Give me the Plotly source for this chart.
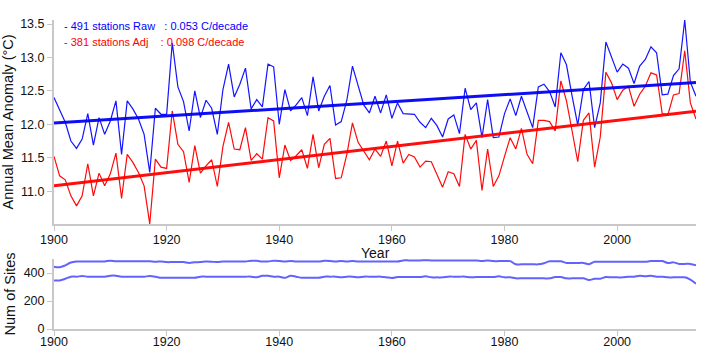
import plotly.graph_objects as go

years = list(range(1900, 2015))

raw_temp = [12.40, 12.22, 12.03, 11.75, 11.64, 11.78, 12.16, 11.69, 12.10, 11.85,
            12.05, 12.35, 11.55, 12.35, 12.23, 12.08, 11.85, 11.28, 12.24, 12.15,
            12.15, 13.22, 12.56, 12.34, 11.90, 12.50, 12.10, 12.36, 12.24, 11.85,
            12.52, 12.90, 12.41, 12.60, 12.84, 12.23, 12.37, 12.26, 12.90, 12.86,
            12.00, 12.52, 12.20, 12.29, 12.40, 12.13, 12.71, 12.20, 12.42, 12.58,
            11.99, 12.04, 12.36, 12.87, 12.57, 12.29, 12.17, 12.42, 12.17, 12.44,
            12.09, 12.32, 12.16, 12.15, 12.15, 12.03, 11.95, 12.09, 11.98, 11.81,
            12.08, 12.14, 11.86, 12.54, 12.22, 12.32, 11.80, 12.37, 11.80, 11.81,
            12.16, 12.38, 12.13, 12.42, 12.17, 11.95, 12.56, 12.60, 12.49, 12.26,
            13.07, 12.89, 12.42, 11.99, 12.52, 12.64, 11.95, 12.32, 13.23, 13.00,
            12.78, 12.90, 12.84, 12.61, 12.87, 12.97, 13.16, 13.07, 12.44, 12.45,
            12.73, 12.83, 13.56, 12.63, 12.42]

adj_temp = [11.52, 11.23, 11.17, 10.93, 10.78, 10.93, 11.41, 10.93, 11.27, 11.08,
            11.26, 11.57, 10.89, 11.55, 11.43, 11.28, 11.08, 10.51, 11.48, 11.36,
            11.34, 12.20, 11.70, 11.59, 11.13, 11.68, 11.27, 11.38, 11.47, 11.07,
            11.67, 12.03, 11.63, 11.62, 11.95, 11.46, 11.56, 11.48, 12.10, 12.05,
            11.20, 11.69, 11.46, 11.53, 11.62, 11.34, 11.85, 11.35, 11.70, 11.79,
            11.19, 11.20, 11.55, 12.02, 11.73, 11.59, 11.47, 11.63, 11.52, 11.75,
            11.38, 11.75, 11.42, 11.55, 11.51, 11.36, 11.45, 11.44, 11.24, 11.06,
            11.29, 11.26, 11.07, 11.85, 11.63, 11.76, 11.01, 11.63, 11.07, 11.23,
            11.52, 11.80, 11.63, 11.94, 11.55, 11.41, 12.06, 12.06, 12.04, 11.90,
            12.65, 12.35, 11.90, 11.44, 12.06, 12.17, 11.36, 11.81, 12.78, 12.62,
            12.37, 12.51, 12.57, 12.27, 12.45, 12.57, 12.77, 12.74, 12.16, 12.14,
            12.44, 12.46, 13.10, 12.32, 12.08]

raw_sites = [445, 441, 455, 475, 482, 483, 483, 483, 483, 483,
             488, 484, 484, 484, 484, 484, 484, 484, 480, 483,
             478, 478, 478, 478, 472, 477, 478, 482, 481, 478,
             482, 482, 482, 482, 482, 488, 487, 482, 483, 487,
             486, 482, 486, 482, 482, 482, 482, 482, 487, 486,
             482, 486, 482, 485, 482, 482, 482, 482, 482, 482,
             482, 482, 490, 490, 490, 490, 491, 490, 490, 490,
             490, 490, 490, 490, 490, 490, 486, 489, 485, 485,
             485, 485, 462, 462, 462, 462, 462, 470, 484, 484,
             484, 472, 472, 472, 472, 463, 480, 480, 480, 480,
             480, 480, 480, 480, 480, 480, 485, 485, 485, 472,
             476, 465, 465, 465, 455]

adj_sites = [347, 347, 359, 374, 374, 378, 374, 374, 374, 374,
             381, 381, 374, 374, 374, 374, 374, 378, 374, 366,
             366, 366, 366, 366, 366, 366, 374, 374, 374, 374,
             374, 374, 374, 374, 374, 374, 369, 380, 380, 374,
             374, 366, 380, 374, 366, 366, 366, 366, 374, 374,
             374, 369, 374, 374, 369, 374, 374, 374, 374, 370,
             364, 371, 371, 371, 371, 371, 376, 369, 369, 369,
             374, 374, 374, 374, 369, 371, 371, 371, 371, 376,
             369, 369, 362, 362, 362, 362, 362, 362, 362, 371,
             371, 362, 362, 362, 362, 350, 359, 359, 371, 369,
             369, 369, 374, 374, 381, 376, 381, 374, 374, 369,
             369, 369, 369, 352, 323]

# trend lines: value at 1900 and slope (degC per decade)
raw_trend_start, raw_slope = 12.02, 0.053
adj_trend_start, adj_slope = 11.08, 0.098
raw_label = "- 491 stations Raw\u00a0\u00a0\u00a0: 0.053 C/decade"
adj_label = "- 381 stations Adj\u00a0\u00a0\u00a0\u00a0: 0.098 C/decade"

trend_x = [years[0], years[-1]]
raw_trend = [raw_trend_start + raw_slope * (y - years[0]) / 10 for y in trend_x]
adj_trend = [adj_trend_start + adj_slope * (y - years[0]) / 10 for y in trend_x]

BLUE = "rgb(20,20,255)"
RED = "rgb(255,10,10)"
FONT = "Liberation Sans, Arial, sans-serif"
AX = "#c8c8c8"

fig = go.Figure()
fig.add_trace(go.Scatter(x=years, y=raw_temp, mode="lines",
                         line=dict(color=BLUE, width=1.2), xaxis="x", yaxis="y"))
fig.add_trace(go.Scatter(x=years, y=adj_temp, mode="lines",
                         line=dict(color=RED, width=1.2), xaxis="x", yaxis="y"))
fig.add_trace(go.Scatter(x=trend_x, y=raw_trend, mode="lines",
                         line=dict(color="rgba(0,0,245,0.95)", width=3), xaxis="x", yaxis="y"))
fig.add_trace(go.Scatter(x=trend_x, y=adj_trend, mode="lines",
                         line=dict(color="rgba(255,0,0,0.95)", width=3), xaxis="x", yaxis="y"))
fig.add_trace(go.Scatter(x=years, y=raw_sites, mode="lines", line_shape="spline",
                         line=dict(color="rgba(70,70,255,0.85)", width=2), xaxis="x2", yaxis="y2"))
fig.add_trace(go.Scatter(x=years, y=adj_sites, mode="lines", line_shape="spline",
                         line=dict(color="rgba(70,70,255,0.85)", width=2), xaxis="x2", yaxis="y2"))

all_t = raw_temp + adj_temp
axis_common = dict(showline=True, linecolor=AX, linewidth=2, ticks="outside",
                   tickcolor=AX, ticklen=5, tickwidth=1, showgrid=False, zeroline=False,
                   automargin=False,
                   tickfont=dict(family=FONT, size=12.5, color="#111"))

fig.update_layout(
    width=720, height=360,
    margin=dict(l=54, r=24, t=20, b=31, autoexpand=False),
    paper_bgcolor="white", plot_bgcolor="white",
    showlegend=False,
    font=dict(family=FONT, size=12.5, color="#111"),
    xaxis=dict(domain=[0, 1], anchor="y", range=[years[0], years[-1]], dtick=20,
               ticklabelstandoff=-2, **axis_common),
    yaxis=dict(domain=[0.34, 1.0], anchor="x", range=[min(all_t), max(all_t)],
               dtick=0.5, tickformat=".1f",
               title=dict(text="Annual Mean Anomaly (°C)", font=dict(family=FONT, size=14.5), standoff=5),
               **axis_common),
    xaxis2=dict(domain=[0, 1], anchor="y2", range=[years[0], years[-1]], dtick=20,
                ticklabelstandoff=-5, **axis_common),
    yaxis2=dict(domain=[0, 0.2265], anchor="x2", range=[0, 500], dtick=200,
                title=dict(text="Num of Sites", font=dict(family=FONT, size=14.5), standoff=5),
                **axis_common),
    annotations=[
        dict(text=raw_label, xref="paper", yref="paper", x=0.012, y=0.979,
             xanchor="left", yanchor="middle", showarrow=False,
             font=dict(family=FONT, size=11, color="rgb(0,0,255)")),
        dict(text=adj_label, xref="paper", yref="paper", x=0.012, y=0.930,
             xanchor="left", yanchor="middle", showarrow=False,
             font=dict(family=FONT, size=11, color="rgb(255,0,0)")),
        dict(text="Year", xref="paper", yref="paper", x=0.5, y=0.246,
             xanchor="center", yanchor="middle", showarrow=False,
             font=dict(family=FONT, size=14, color="#111")),
    ],
)

fig.write_html("out.html", config={"displayModeBar": False},
               post_script="document.body.style.margin='0';document.body.style.overflow='hidden';")
